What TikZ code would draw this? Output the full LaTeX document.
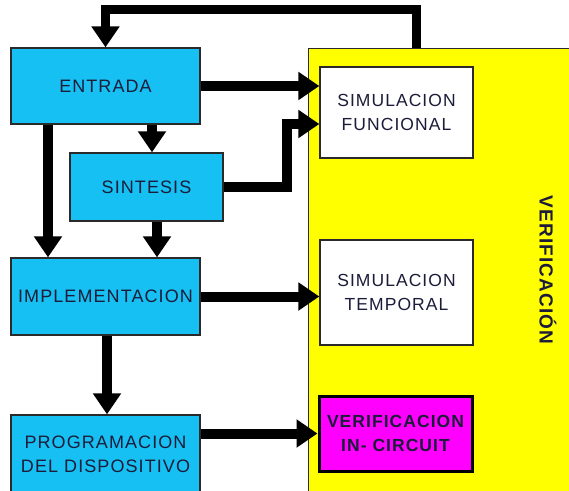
\documentclass[tikz,border=0pt]{standalone}
\usepackage{fontspec}
\setmainfont{Liberation Sans}[LetterSpace=6]
\usetikzlibrary{arrows.meta}
\definecolor{cyanbox}{HTML}{16C0F2}
\definecolor{txt}{HTML}{1C1C3A}
\definecolor{edge}{HTML}{2A2A2A}
\definecolor{yel}{HTML}{FFFF00}
\definecolor{mag}{HTML}{FF00FF}
\tikzset{
  proc/.style={draw=edge, line width=1.3pt, fill=cyanbox, text=txt, font=\fontsize{18}{24}\selectfont, align=center, inner sep=0pt},
  sim/.style={draw=edge, line width=1.3pt, fill=white, text=txt, font=\fontsize{17.5}{24}\selectfont, align=center, inner sep=0pt, minimum width=153pt},
  flow/.style={line width=10pt, draw=black, -{Triangle[width=27pt,length=21pt]}},
}
\begin{document}
\begin{tikzpicture}[x=1pt,y=-1pt]
\useasboundingbox (0,0) rectangle (569,490);
\fill[white] (0,0) rectangle (569,490);
% yellow verification area
\node[draw=edge, line width=1.3pt, fill=yel, minimum width=270pt, minimum height=450pt, inner sep=0pt, anchor=north west] (ver) at (308,48) {};
\node[rotate=-90, font=\bfseries\fontsize{19}{22}\selectfont, text=txt] (vt) at (548,270) {VERIFICACIÓN};
% process boxes
\node[proc, minimum width=189pt, minimum height=76pt] (e) at (105.5,86) {ENTRADA};
\node[proc, minimum width=153pt, minimum height=68pt] (s) at (146.5,187) {SINTESIS};
\node[proc, minimum width=189pt, minimum height=77pt] (i) at (105.5,296.5) {IMPLEMENTACION};
\node[proc, minimum width=189pt, minimum height=78pt] (p) at (105.5,454) {PROGRAMACION\\DEL DISPOSITIVO};
% verification boxes
\node[sim, minimum height=91pt] (sf) at (396.5,112.5) {SIMULACION\\FUNCIONAL};
\node[sim, minimum height=105pt] (st) at (396.5,292.5) {SIMULACION\\TEMPORAL};
\node[draw=black, line width=3pt, fill=mag, text=txt, minimum width=153pt, minimum height=75pt, inner sep=0pt, align=center, font=\bfseries\fontsize{17.5}{24}\selectfont] (vc) at (395.5,433.5) {VERIFICACION\\IN- CIRCUIT};
% helper coordinates
\coordinate (xa) at (48,0);
\coordinate (xb) at (152,0);
\coordinate (xc) at (157,0);
\coordinate (xd) at (107,0);
\coordinate (xf) at (416,0);
\coordinate (top) at (0,9);
\coordinate (bend) at (287,0);
\coordinate (yin) at (0,124);
% connectors
\draw[flow] (e.east) -- (e.east -| sf.west);
\draw[flow] (s.east) -- (s.east -| bend) -- (bend |- yin) -- (sf.west |- yin);
\draw[flow] (e.south -| xb) -- (s.north -| xb);
\draw[flow] (e.south -| xa) -- (i.north -| xa);
\draw[flow] (s.south -| xc) -- (i.north -| xc);
\draw[flow] (i.east) -- (i.east -| st.west);
\draw[flow] (i.south -| xd) -- (p.north -| xd);
\draw[flow] (p.east |- vc.west) -- (vc.west);
\draw[flow, line width=9pt] (ver.north -| xf) -- (xf |- top) -- (e.north |- top) -- (e.north);
\end{tikzpicture}
\end{document}
